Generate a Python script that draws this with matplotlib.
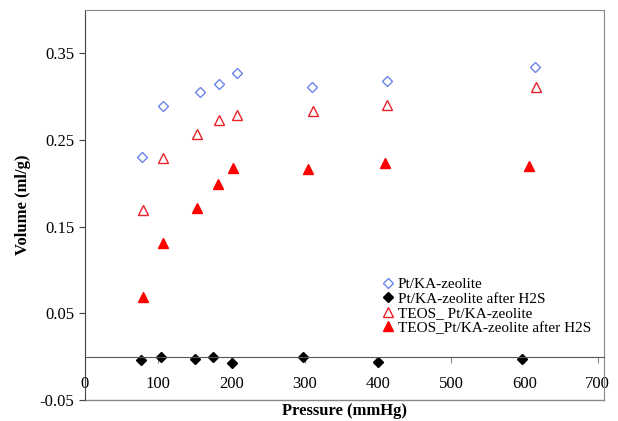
import numpy as np
import matplotlib.pyplot as plt

plt.rcParams['font.family'] = ['Liberation Serif', 'DejaVu Serif']

# data
p_fresh = [78, 106, 157, 183, 207, 310, 412, 615]
v_fresh = [0.231, 0.289, 0.306, 0.315, 0.327, 0.311, 0.318, 0.334]

p_fresh_h2s = [77, 104, 150, 175, 201, 298, 400, 597]
v_fresh_h2s = [-0.004, 0.000, -0.003, 0.000, -0.007, 0.000, -0.006, -0.003]

p_teos = [79, 107, 153, 183, 208, 311, 413, 616]
v_teos = [0.169, 0.229, 0.257, 0.273, 0.279, 0.283, 0.291, 0.311]

p_teos_h2s = [79, 107, 153, 182, 202, 305, 410, 607]
v_teos_h2s = [0.069, 0.131, 0.172, 0.199, 0.218, 0.217, 0.223, 0.220]

labels = ['Pt/KA-zeolite', 'Pt/KA-zeolite after H2S',
          'TEOS_ Pt/KA-zeolite', 'TEOS_Pt/KA-zeolite after H2S']

fig = plt.figure(figsize=(6.18, 4.21), dpi=100)
ax = fig.add_axes([0.1375, 0.05, 0.84, 0.926])

ax.plot(p_fresh, v_fresh, 'D', ms=5.5, mfc='none', mec='#6a84e8', mew=1.0,
        ls='none', label=labels[0])
ax.plot(p_fresh_h2s, v_fresh_h2s, 'D', ms=5.5, color='black',
        ls='none', label=labels[1])
ax.plot(p_teos, v_teos, '^', ms=7.5, mfc='none', mec='#e8202a', mew=1.0,
        ls='none', label=labels[2])
ax.plot(p_teos_h2s, v_teos_h2s, '^', ms=7.5, color='#ff0000',
        ls='none', label=labels[3])

# plot area runs a little past the last tick (700)
ax.set_xlim(0, 709)
ax.set_ylim(-0.05, 0.40)
ax.set_xticks(np.arange(0, 701, 100))
ax.set_yticks([-0.05, 0.05, 0.15, 0.25, 0.35])
ax.set_yticklabels(['-0.05', '0.05', '0.15', '0.25', '0.35'])

# x axis crosses at zero, Excel style
ax.spines['bottom'].set_position(('data', 0))
ax.spines['bottom'].set_color('#555555')
ax.spines['left'].set_color('#444444')
for s in ['top', 'right']:
    ax.spines[s].set_color('#888888')
ax.axhline(-0.05, color='#888888', lw=1.0, clip_on=False)

ax.tick_params(axis='x', direction='out', length=4, pad=10, labelsize=12,
               color='#888888')
ax.tick_params(axis='y', direction='out', length=4, labelsize=12,
               color='#444444')

ax.set_xlabel('Pressure (mmHg)', fontsize=12, fontweight='bold')
ax.xaxis.set_label_coords(0.5, -0.008)
ax.set_ylabel('Volume (ml/g)', fontsize=12, fontweight='bold', labelpad=6)

ax.legend(loc='lower right', bbox_to_anchor=(0.995, 0.14), frameon=False,
          fontsize=11, handletextpad=0.15, labelspacing=0.05, handlelength=1.0,
          borderpad=0.2)

plt.savefig('out.png', dpi=100)
